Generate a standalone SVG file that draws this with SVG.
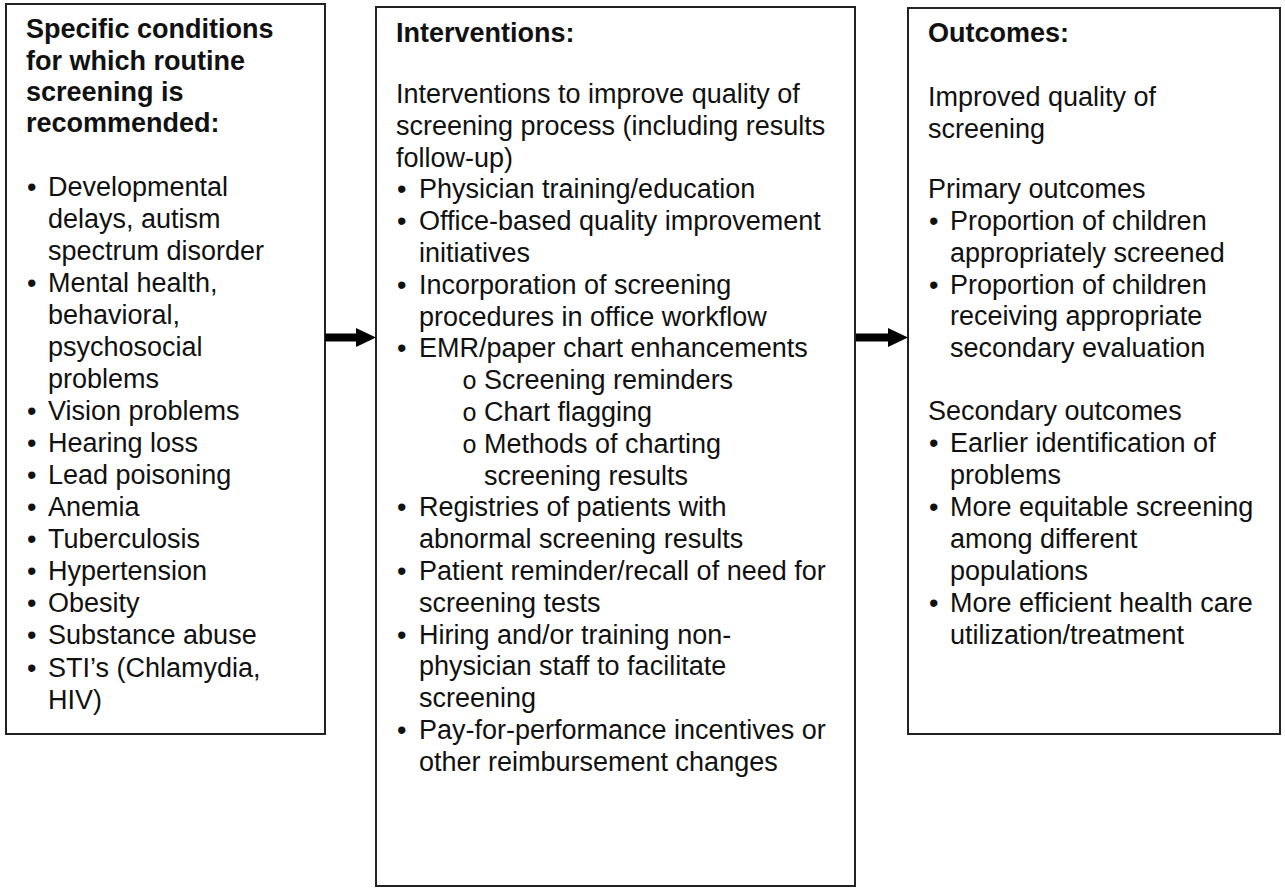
<svg xmlns="http://www.w3.org/2000/svg" width="1285" height="888" viewBox="0 0 1285 888">
<style>
.box{fill:#fff;stroke:#222;stroke-width:2}
text{font-family:"Liberation Sans",Arial,sans-serif;font-size:27px;fill:#111}
.b{font-weight:bold}
.sub{font-family:"Liberation Mono","Courier New",monospace;font-size:25px}
.arrow{fill:#000}
</style>
<rect width="1285" height="888" fill="#fff"/>
<g id="node-conditions">
<rect class="box" x="6" y="4" width="319" height="730"/>
<text class="b" x="26" y="38">Specific conditions</text>
<text class="b" x="26" y="69.5">for which routine</text>
<text class="b" x="26" y="101">screening is</text>
<text class="b" x="26" y="132">recommended:</text>
<text x="27" y="196">•</text><text x="48" y="196">Developmental</text>
<text x="48" y="228">delays, autism</text>
<text x="48" y="260">spectrum disorder</text>
<text x="27" y="292">•</text><text x="48" y="292">Mental health,</text>
<text x="48" y="324">behavioral,</text>
<text x="48" y="356">psychosocial</text>
<text x="48" y="388">problems</text>
<text x="27" y="420">•</text><text x="48" y="420">Vision problems</text>
<text x="27" y="452">•</text><text x="48" y="452">Hearing loss</text>
<text x="27" y="484">•</text><text x="48" y="484">Lead poisoning</text>
<text x="27" y="516">•</text><text x="48" y="516">Anemia</text>
<text x="27" y="548">•</text><text x="48" y="548">Tuberculosis</text>
<text x="27" y="580">•</text><text x="48" y="580">Hypertension</text>
<text x="27" y="612">•</text><text x="48" y="612">Obesity</text>
<text x="27" y="644">•</text><text x="48" y="644">Substance abuse</text>
<text x="27" y="677">•</text><text x="48" y="677">STI’s (Chlamydia,</text>
<text x="48" y="709">HIV)</text>
</g>
<g id="node-interventions">
<rect class="box" x="376" y="7" width="479" height="879"/>
<text class="b" x="396" y="42">Interventions:</text>
<text x="396" y="103">Interventions to improve quality of</text>
<text x="396" y="134.8">screening process (including results</text>
<text x="396" y="166.6">follow-up)</text>
<text x="397" y="198.4">•</text><text x="419" y="198.4">Physician training/education</text>
<text x="397" y="230.2">•</text><text x="419" y="230.2">Office-based quality improvement</text>
<text x="419" y="262">initiatives</text>
<text x="397" y="293.8">•</text><text x="419" y="293.8">Incorporation of screening</text>
<text x="419" y="325.6">procedures in office workflow</text>
<text x="397" y="357.4">•</text><text x="419" y="357.4">EMR/paper chart enhancements</text>
<text class="sub" x="462" y="389.2">o</text><text x="484" y="389.2">Screening reminders</text>
<text class="sub" x="462" y="421">o</text><text x="484" y="421">Chart flagging</text>
<text class="sub" x="462" y="452.8">o</text><text x="484" y="452.8">Methods of charting</text>
<text x="484" y="484.6">screening results</text>
<text x="397" y="516.4">•</text><text x="419" y="516.4">Registries of patients with</text>
<text x="419" y="548.2">abnormal screening results</text>
<text x="397" y="580">•</text><text x="419" y="580">Patient reminder/recall of need for</text>
<text x="419" y="611.8">screening tests</text>
<text x="397" y="643.6">•</text><text x="419" y="643.6">Hiring and/or training non-</text>
<text x="419" y="675.4">physician staff to facilitate</text>
<text x="419" y="707.2">screening</text>
<text x="397" y="739">•</text><text x="419" y="739">Pay-for-performance incentives or</text>
<text x="419" y="770.8">other reimbursement changes</text>
</g>
<g id="node-outcomes">
<rect class="box" x="908" y="8" width="372" height="726"/>
<text class="b" x="928" y="42">Outcomes:</text>
<text x="928" y="106">Improved quality of</text>
<text x="928" y="137.5">screening</text>
<text x="928" y="198">Primary outcomes</text>
<text x="929" y="230">•</text><text x="950" y="230">Proportion of children</text>
<text x="950" y="262">appropriately screened</text>
<text x="929" y="293.5">•</text><text x="950" y="293.5">Proportion of children</text>
<text x="950" y="325">receiving appropriate</text>
<text x="950" y="356.5">secondary evaluation</text>
<text x="928" y="420">Secondary outcomes</text>
<text x="929" y="452">•</text><text x="950" y="452">Earlier identification of</text>
<text x="950" y="484">problems</text>
<text x="929" y="516">•</text><text x="950" y="516">More equitable screening</text>
<text x="950" y="548">among different</text>
<text x="950" y="580">populations</text>
<text x="929" y="612">•</text><text x="950" y="612">More efficient health care</text>
<text x="950" y="644">utilization/treatment</text>
</g>
<g id="connectors">
<path class="arrow" d="M325,333.5 H356 V328 L376,337.5 L356,347 V341.5 H325 Z"/>
<path class="arrow" d="M856,333.5 H888 V328 L908,337.5 L888,347 V341.5 H856 Z"/>
</g>
</svg>
